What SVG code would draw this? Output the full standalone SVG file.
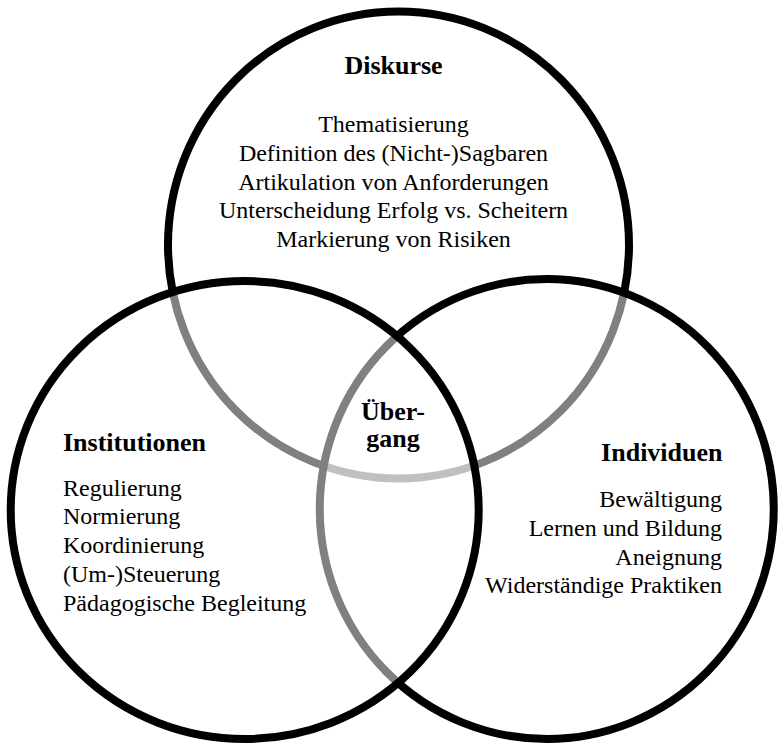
<svg xmlns="http://www.w3.org/2000/svg" width="778" height="747" viewBox="0 0 778 747">
  <style>
    .ring { fill: #ffffff; fill-opacity: 0.5; stroke: #000000; stroke-width: 8; }
    .title { font-family: "Liberation Serif", "Times New Roman", serif; font-size: 26px; font-weight: bold; fill: #000000; }
    .item { font-family: "Liberation Serif", "Times New Roman", serif; font-size: 24px; fill: #000000; }
    .mid { text-anchor: middle; }
    .end { text-anchor: end; }
  </style>
  <rect width="778" height="747" fill="#ffffff"/>

  <!-- Each ring has a half-transparent white fill, so strokes of rings drawn earlier turn grey where a later ring covers them -->
  <g id="diskurse">
    <ellipse class="ring" cx="398.5" cy="245" rx="230.5" ry="233.5"/>
    <text class="title mid" x="393.5" y="74">Diskurse</text>
    <text class="item mid" x="393.5" y="132">Thematisierung</text>
    <text class="item mid" x="393.5" y="160.8">Definition des (Nicht-)Sagbaren</text>
    <text class="item mid" x="393.5" y="189.6">Artikulation von Anforderungen</text>
    <text class="item mid" x="393.5" y="218.4">Unterscheidung Erfolg vs. Scheitern</text>
    <text class="item mid" x="393.5" y="247.2">Markierung von Risiken</text>
  </g>

  <g id="individuen">
    <ellipse class="ring" cx="546.75" cy="509" rx="227" ry="230"/>
    <text class="title end" x="722.5" y="460.5">Individuen</text>
    <text class="item end" x="722" y="507">Bewältigung</text>
    <text class="item end" x="722" y="535.8">Lernen und Bildung</text>
    <text class="item end" x="722" y="564.6">Aneignung</text>
    <text class="item end" x="722" y="593.4">Widerständige Praktiken</text>
  </g>

  <g id="institutionen">
    <ellipse class="ring" cx="244.7" cy="510" rx="234" ry="229"/>
    <text class="title" x="63" y="451">Institutionen</text>
    <text class="item" x="63" y="495.5">Regulierung</text>
    <text class="item" x="63" y="524.3">Normierung</text>
    <text class="item" x="63" y="553.1">Koordinierung</text>
    <text class="item" x="63" y="581.9">(Um-)Steuerung</text>
    <text class="item" x="63" y="610.7">Pädagogische Begleitung</text>
  </g>

  <g id="uebergang">
    <text class="title mid" x="393" y="420">Über-</text>
    <text class="title mid" x="393" y="447">gang</text>
  </g>
</svg>
